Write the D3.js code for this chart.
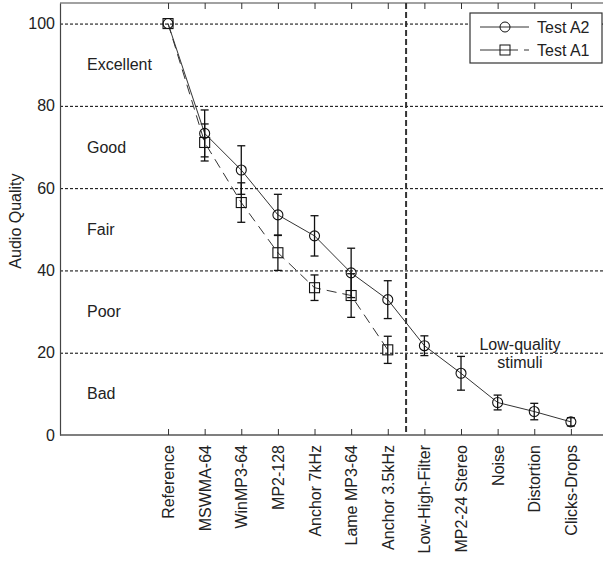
<!DOCTYPE html>
<html>
<head>
<meta charset="utf-8">
<script src="https://cdn.jsdelivr.net/npm/d3@7"></script>
<style>
  body { margin: 0; background: #fff; }
  svg { display: block; font-family: "Liberation Sans", Arial, sans-serif; }
</style>
</head>
<body>
<svg id="chart" width="603" height="562"></svg>
<script>
// Stimuli on the x axis
const categories = ['Reference', 'MSWMA-64', 'WinMP3-64', 'MP2-128', 'Anchor 7kHz', 'Lame MP3-64',
  'Anchor 3.5kHz', 'Low-High-Filter', 'MP2-24 Stereo', 'Noise', 'Distortion', 'Clicks-Drops'];

// Test A2 (circles, solid) - all stimuli
const testA2 = [100, 73.3, 64.4, 53.5, 48.4, 39.4, 32.9, 21.7, 15.0, 7.9, 5.7, 3.2];
const errA2 = [0, 5.7, 5.9, 5.0, 4.9, 6.0, 4.6, 2.4, 4.1, 1.8, 2.0, 1.0];

// Test A1 (squares, dashed) - first seven stimuli only
const testA1 = [100, 71.1, 56.5, 44.3, 35.8, 33.9, 20.7];
const errA1 = [0, 4.5, 4.8, 4.3, 3.1, 5.3, 3.3];

const yTicks = [0, 20, 40, 60, 80, 100];
const bandLabels = ['Excellent', 'Good', 'Fair', 'Poor', 'Bad'];
const bandCentres = [90, 70, 50, 30, 10];
const splitAt = 6.5; // between high-quality and low-quality stimuli

const svg = d3.select('#chart');
const mLeft = 60, mTop = 3, mBottom = 435, mRight = 607.5;
const ink = '#222';

const x = d3.scaleLinear().domain([-2.95, 12]).range([mLeft, mRight]);
const y = d3.scaleLinear().domain([0, 105]).range([mBottom, mTop]);

// Horizontal dotted grid
svg.append('g')
  .attr('transform', `translate(${mLeft},0)`)
  .call(d3.axisLeft(y).tickValues(yTicks.slice(1)).tickSize(-(mRight - mLeft)).tickFormat(''))
  .call(g => g.select('.domain').remove())
  .call(g => g.selectAll('.tick line')
    .attr('stroke', '#000').attr('stroke-width', 1).attr('stroke-dasharray', '3,2'));

// Frame top line
svg.append('line').attr('x1', mLeft).attr('x2', mRight + 5).attr('y1', mTop).attr('y2', mTop)
  .attr('stroke', '#444').attr('stroke-width', 1.2);

// Top ticks
svg.append('g')
  .attr('transform', `translate(0,${mTop})`)
  .call(d3.axisTop(x).tickValues(d3.range(categories.length)).tickSize(-6).tickFormat(''))
  .call(g => g.select('.domain').remove())
  .call(g => g.selectAll('.tick line').attr('stroke', '#333'));

// Y axis
svg.append('g')
  .attr('transform', `translate(${mLeft},0)`)
  .call(d3.axisLeft(y).tickValues(yTicks).tickSize(0).tickPadding(5))
  .call(g => g.select('.domain').attr('stroke', '#444').attr('stroke-width', 1.2))
  .call(g => g.selectAll('text').attr('font-size', 16).attr('fill', ink));

// X axis
svg.append('g')
  .attr('transform', `translate(0,${mBottom})`)
  .call(d3.axisBottom(x).tickValues(d3.range(categories.length)).tickSize(-6).tickFormat(i => categories[i]))
  .call(g => g.select('.domain').attr('d', `M${mLeft},0H${mRight + 5}`).attr('stroke', '#555').attr('stroke-width', 1.6))
  .call(g => g.selectAll('.tick line').attr('stroke', '#333'))
  .call(g => g.selectAll('text')
    .attr('font-size', 16).attr('fill', ink)
    .attr('text-anchor', 'end')
    .attr('transform', 'rotate(-90)')
    .attr('x', -10).attr('y', 0).attr('dy', '0.35em'));
svg.selectAll('.tick text').attr('font-family', null);

// Y label
svg.append('text')
  .attr('transform', `translate(21,${y(52)}) rotate(-90)`)
  .attr('text-anchor', 'middle')
  .attr('font-size', 16).attr('fill', ink)
  .text('Audio Quality');

// Quality band labels
svg.append('g').selectAll('text').data(bandLabels).join('text')
  .attr('x', 87).attr('y', (d, i) => y(bandCentres[i])).attr('dy', '0.35em')
  .attr('font-size', 16).attr('fill', ink)
  .text(d => d);

// Separator for low-quality stimuli
svg.append('line')
  .attr('x1', x(splitAt)).attr('x2', x(splitAt)).attr('y1', mTop).attr('y2', mBottom)
  .attr('stroke', '#333').attr('stroke-width', 2).attr('stroke-dasharray', '6,3');

svg.append('text')
  .attr('text-anchor', 'middle').attr('font-size', 16).attr('fill', ink)
  .selectAll('tspan').data(['Low-quality', 'stimuli']).join('tspan')
  .attr('x', x(9.5) + 4).attr('y', (d, i) => 350 + i * 18)
  .text(d => d);

const line = d3.line().x(d => x(d.i)).y(d => y(d.v));

function drawSeries(values, errs, dash, marker) {
  const pts = values.map((v, i) => ({ i, v, e: errs[i] }));
  const g = svg.append('g');
  g.append('path').datum(pts)
    .attr('d', line).attr('fill', 'none')
    .attr('stroke', '#333').attr('stroke-width', 1)
    .attr('stroke-dasharray', dash);
  // error bars
  const eb = g.append('g').selectAll('g').data(pts.filter(d => d.e > 0)).join('g')
    .attr('stroke', '#111').attr('stroke-width', 1.3);
  eb.append('line')
    .attr('x1', d => x(d.i)).attr('x2', d => x(d.i))
    .attr('y1', d => y(d.v - d.e)).attr('y2', d => y(d.v + d.e));
  [-1, 1].forEach(s => {
    eb.append('line')
      .attr('x1', d => x(d.i) - 4).attr('x2', d => x(d.i) + 4)
      .attr('y1', d => y(d.v + s * d.e)).attr('y2', d => y(d.v + s * d.e));
  });
  // markers
  const m = g.append('g').selectAll('g').data(pts).join('g')
    .attr('transform', d => `translate(${x(d.i)},${y(d.v)})`);
  if (marker === 'circle') {
    m.append('circle').attr('r', 5).attr('fill', 'none').attr('stroke', '#111').attr('stroke-width', 1.1);
  } else {
    m.append('rect').attr('x', -5).attr('y', -5).attr('width', 10).attr('height', 10)
      .attr('fill', 'none').attr('stroke', '#111').attr('stroke-width', 1.1);
  }
}

drawSeries(testA1, errA1, '10,6', 'square');
drawSeries(testA2, errA2, null, 'circle');

// Legend
const lg = svg.append('g').attr('transform', 'translate(470,13)');
lg.append('rect').attr('width', 132).attr('height', 50)
  .attr('fill', '#fff').attr('stroke', '#333').attr('stroke-width', 1.2);
const legendLabels = ['Test A2', 'Test A1'];
const legendDash = [null, '38,6,5'];
const legendMarker = ['circle', 'square'];
legendLabels.forEach((label, i) => {
  const row = lg.append('g').attr('transform', `translate(0,${14 + i * 23})`);
  row.append('line').attr('x1', 10).attr('x2', 59).attr('stroke', '#333').attr('stroke-width', 1)
    .attr('stroke-dasharray', legendDash[i]);
  if (legendMarker[i] === 'circle') {
    row.append('circle').attr('cx', 35).attr('r', 5).attr('fill', 'none').attr('stroke', '#111');
  } else {
    row.append('rect').attr('x', 30).attr('y', -5).attr('width', 10).attr('height', 10)
      .attr('fill', 'none').attr('stroke', '#111');
  }
  row.append('text').attr('x', 67).attr('dy', '0.35em').attr('font-size', 16).attr('fill', ink).text(label);
});
</script>
</body>
</html>
